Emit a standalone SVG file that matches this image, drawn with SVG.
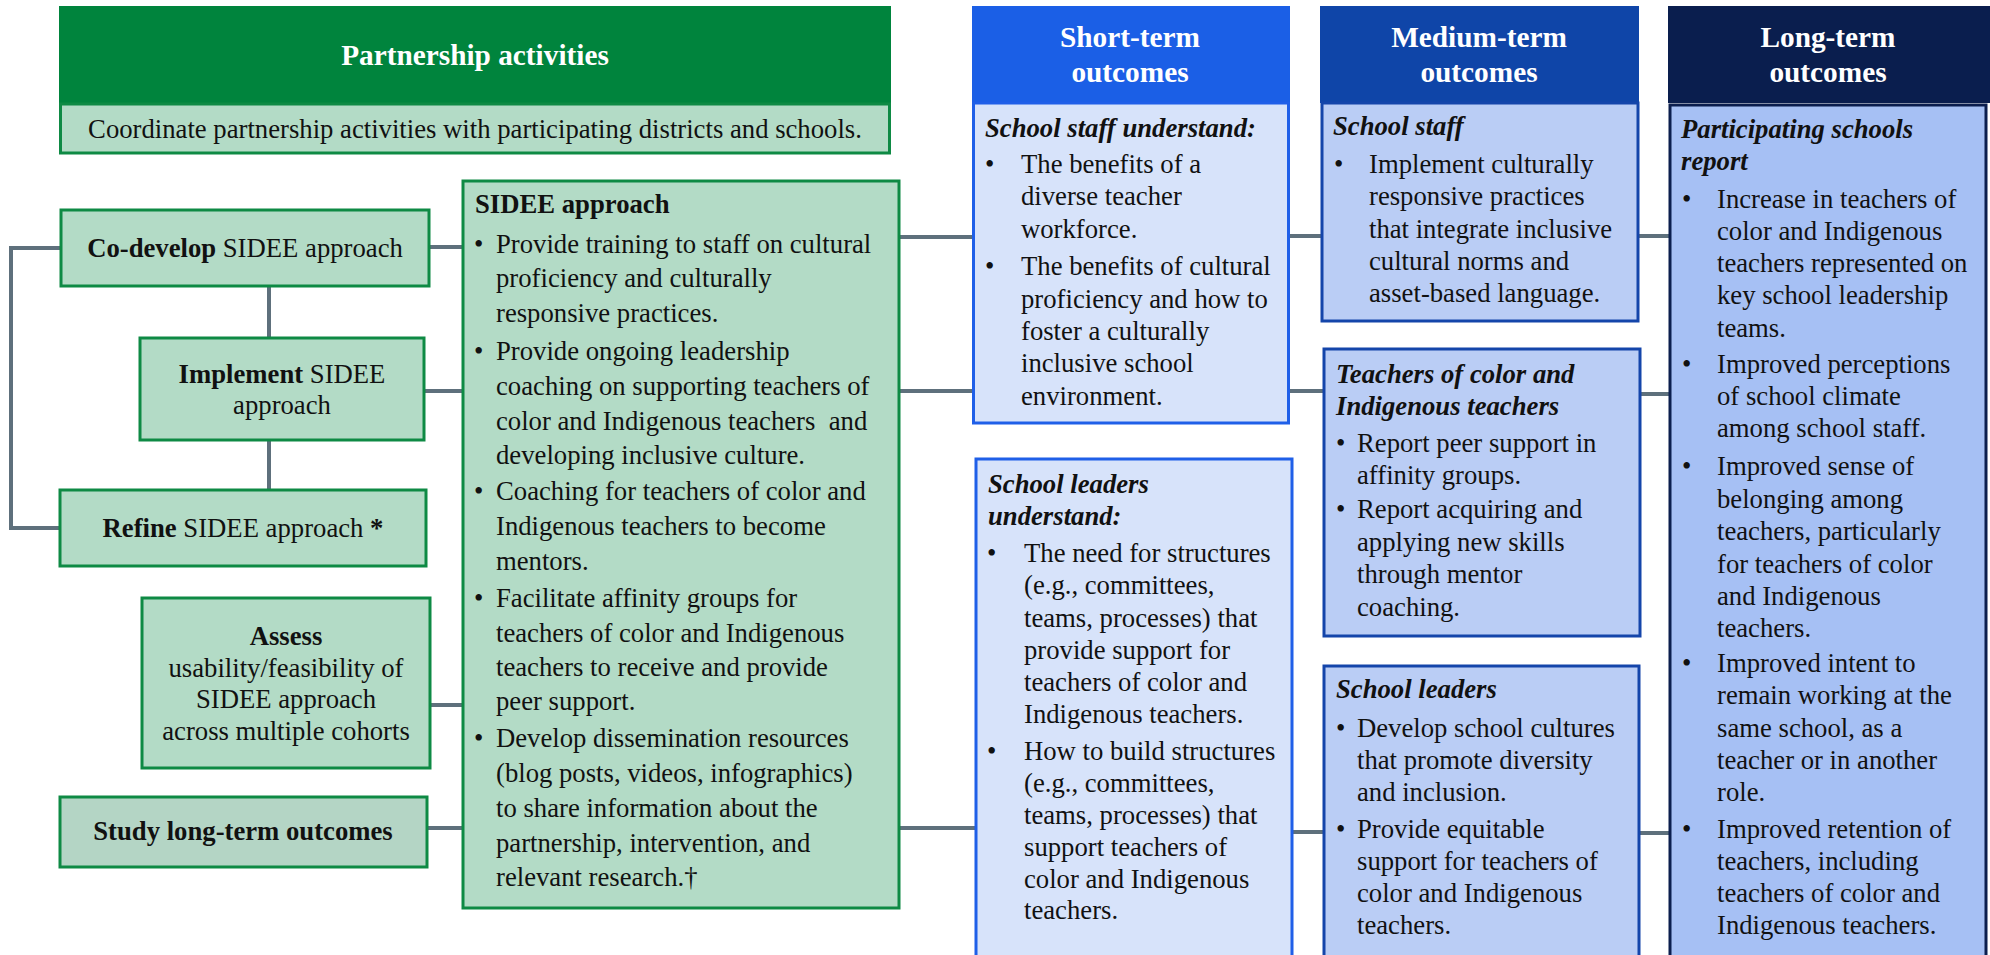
<svg xmlns="http://www.w3.org/2000/svg" width="1990" height="955" viewBox="0 0 1990 955">
<style>
text{font-family:"Liberation Serif","Times New Roman",serif;font-size:26.7px;fill:#111}
.hd{font-size:29.3px;font-weight:bold;fill:#fff;text-anchor:middle}
.b{font-weight:bold}
.bi{font-weight:bold;font-style:italic}
.c{text-anchor:middle}
.g{fill:#b3dbc6;stroke:#0e8a44;stroke-width:3}
.s{fill:#d7e3fa;stroke:#1f5fe8;stroke-width:3}
.m{fill:#bacdf5;stroke:#1445aa;stroke-width:3}
.l{fill:#a6c0f4;stroke:#0b1e4e;stroke-width:3}
.cn path{fill:none;stroke:#5e707c;stroke-width:4}
</style>
<rect width="1990" height="955" fill="#fff"/>
<g id="connectors" class="cn">
<path d="M60,248 H11 V528 H59"/>
<path d="M269,287 V337"/>
<path d="M269,441 V489"/>
<path d="M430,247 H462"/>
<path d="M425,391 H462"/>
<path d="M431,705 H462"/>
<path d="M428,828 H462"/>
<path d="M900,237 H972"/>
<path d="M900,391 H972"/>
<path d="M900,828 H976"/>
<path d="M1290,236 H1322"/>
<path d="M1290,391 H1323"/>
<path d="M1292,832 H1323"/>
<path d="M1638,236 H1669"/>
<path d="M1640,394 H1669"/>
<path d="M1638,833 H1669"/>
</g>
<g id="partnership">
<rect x="59" y="6" width="832" height="98" fill="#00843d"/>
<text class="hd" x="475" y="65">Partnership activities</text>
<rect class="g" x="60.5" y="104" width="829" height="49"/>
<text class="c" x="475" y="138">Coordinate partnership activities with participating districts and schools.</text>
</g>
<g id="codevelop">
<rect class="g" x="61" y="210" width="368" height="76"/>
<text class="c" x="245" y="257"><tspan class="b">Co-develop</tspan> SIDEE approach</text>
</g>
<g id="implement">
<rect class="g" x="140" y="338" width="284" height="102"/>
<text class="c" x="282" y="383"><tspan class="b">Implement</tspan> SIDEE</text>
<text class="c" x="282" y="414">approach</text>
</g>
<g id="refine">
<rect class="g" x="60" y="490" width="366" height="76"/>
<text class="c" x="243" y="537"><tspan class="b">Refine</tspan> SIDEE approach <tspan class="b">*</tspan></text>
</g>
<g id="assess">
<rect class="g" x="142" y="598" width="288" height="170"/>
<text class="c" x="286" y="645"><tspan class="b">Assess</tspan></text>
<text class="c" x="286" y="677">usability/feasibility of</text>
<text class="c" x="286" y="708">SIDEE approach</text>
<text class="c" x="286" y="740">across multiple cohorts</text>
</g>
<g id="study">
<rect x="60" y="797" width="367" height="70" fill="#b4d5c5" stroke="#0e8a44" stroke-width="3"/>
<text class="c b" x="243" y="840">Study long-term outcomes</text>
</g>
<g id="sidee">
<rect class="g" x="463" y="181" width="436" height="727"/>
<text class="b" x="475" y="213">SIDEE approach</text>
<text x="474" y="253">•</text>
<text x="496" y="253">Provide training to staff on cultural</text>
<text x="496" y="287">proficiency and culturally</text>
<text x="496" y="322">responsive practices.</text>
<text x="474" y="360">•</text>
<text x="496" y="360">Provide ongoing leadership</text>
<text x="496" y="395">coaching on supporting teachers of</text>
<text x="496" y="430" xml:space="preserve">color and Indigenous teachers  and</text>
<text x="496" y="464">developing inclusive culture.</text>
<text x="474" y="500">•</text>
<text x="496" y="500">Coaching for teachers of color and</text>
<text x="496" y="535">Indigenous teachers to become</text>
<text x="496" y="570">mentors.</text>
<text x="474" y="607">•</text>
<text x="496" y="607">Facilitate affinity groups for</text>
<text x="496" y="642">teachers of color and Indigenous</text>
<text x="496" y="676">teachers to receive and provide</text>
<text x="496" y="710">peer support.</text>
<text x="474" y="747">•</text>
<text x="496" y="747">Develop dissemination resources</text>
<text x="496" y="782">(blog posts, videos, infographics)</text>
<text x="496" y="817">to share information about the</text>
<text x="496" y="852">partnership, intervention, and</text>
<text x="496" y="886">relevant research.†</text>
</g>
<g id="short-header">
<rect x="972" y="6" width="318" height="97" fill="#1b5fe6"/>
<text class="hd" x="1130" y="47">Short-term</text>
<text class="hd" x="1130" y="82">outcomes</text>
</g>
<g id="short-staff">
<rect class="s" x="973.5" y="103" width="315" height="320"/>
<text class="bi" x="985" y="137">School staff understand:</text>
<text x="985" y="173">•</text>
<text x="1021" y="173">The benefits of a</text>
<text x="1021" y="205">diverse teacher</text>
<text x="1021" y="238">workforce.</text>
<text x="985" y="275">•</text>
<text x="1021" y="275">The benefits of cultural</text>
<text x="1021" y="308">proficiency and how to</text>
<text x="1021" y="340">foster a culturally</text>
<text x="1021" y="372">inclusive school</text>
<text x="1021" y="405">environment.</text>
</g>
<g id="short-leaders">
<rect class="s" x="976" y="459" width="316" height="510"/>
<text class="bi" x="988" y="493">School leaders</text>
<text class="bi" x="988" y="525">understand:</text>
<text x="987" y="562">•</text>
<text x="1024" y="562">The need for structures</text>
<text x="1024" y="594">(e.g., committees,</text>
<text x="1024" y="627">teams, processes) that</text>
<text x="1024" y="659">provide support for</text>
<text x="1024" y="691">teachers of color and</text>
<text x="1024" y="723">Indigenous teachers.</text>
<text x="987" y="760">•</text>
<text x="1024" y="760">How to build structures</text>
<text x="1024" y="792">(e.g., committees,</text>
<text x="1024" y="824">teams, processes) that</text>
<text x="1024" y="856">support teachers of</text>
<text x="1024" y="888">color and Indigenous</text>
<text x="1024" y="919">teachers.</text>
</g>
<g id="medium-header">
<rect x="1320" y="6" width="319" height="97" fill="#0f45a8"/>
<text class="hd" x="1479" y="47">Medium-term</text>
<text class="hd" x="1479" y="82">outcomes</text>
</g>
<g id="medium-staff">
<rect class="m" x="1322" y="103" width="316" height="218"/>
<text class="bi" x="1333" y="135">School staff</text>
<text x="1334" y="173">•</text>
<text x="1369" y="173">Implement culturally</text>
<text x="1369" y="205">responsive practices</text>
<text x="1369" y="238">that integrate inclusive</text>
<text x="1369" y="270">cultural norms and</text>
<text x="1369" y="302">asset-based language.</text>
</g>
<g id="medium-teachers">
<rect class="m" x="1324" y="349" width="316" height="287"/>
<text class="bi" x="1336" y="383">Teachers of color and</text>
<text class="bi" x="1336" y="415">Indigenous teachers</text>
<text x="1336" y="452">•</text>
<text x="1357" y="452">Report peer support in</text>
<text x="1357" y="484">affinity groups.</text>
<text x="1336" y="518">•</text>
<text x="1357" y="518">Report acquiring and</text>
<text x="1357" y="551">applying new skills</text>
<text x="1357" y="583">through mentor</text>
<text x="1357" y="616">coaching.</text>
</g>
<g id="medium-leaders">
<rect class="m" x="1324" y="666" width="315" height="300"/>
<text class="bi" x="1336" y="698">School leaders</text>
<text x="1336" y="737">•</text>
<text x="1357" y="737">Develop school cultures</text>
<text x="1357" y="769">that promote diversity</text>
<text x="1357" y="801">and inclusion.</text>
<text x="1336" y="838">•</text>
<text x="1357" y="838">Provide equitable</text>
<text x="1357" y="870">support for teachers of</text>
<text x="1357" y="902">color and Indigenous</text>
<text x="1357" y="934">teachers.</text>
</g>
<g id="long-header">
<rect x="1668" y="6" width="322" height="97" fill="#0a1e4e"/>
<text class="hd" x="1828" y="47">Long-term</text>
<text class="hd" x="1828" y="82">outcomes</text>
</g>
<g id="long-body">
<rect class="l" x="1670" y="105" width="316" height="870"/>
<text class="bi" x="1681" y="138">Participating schools</text>
<text class="bi" x="1681" y="170">report</text>
<text x="1682" y="208">•</text>
<text x="1717" y="208">Increase in teachers of</text>
<text x="1717" y="240">color and Indigenous</text>
<text x="1717" y="272">teachers represented on</text>
<text x="1717" y="304">key school leadership</text>
<text x="1717" y="337">teams.</text>
<text x="1682" y="373">•</text>
<text x="1717" y="373">Improved perceptions</text>
<text x="1717" y="405">of school climate</text>
<text x="1717" y="437">among school staff.</text>
<text x="1682" y="475">•</text>
<text x="1717" y="475">Improved sense of</text>
<text x="1717" y="508">belonging among</text>
<text x="1717" y="540">teachers, particularly</text>
<text x="1717" y="573">for teachers of color</text>
<text x="1717" y="605">and Indigenous</text>
<text x="1717" y="637">teachers.</text>
<text x="1682" y="672">•</text>
<text x="1717" y="672">Improved intent to</text>
<text x="1717" y="704">remain working at the</text>
<text x="1717" y="737">same school, as a</text>
<text x="1717" y="769">teacher or in another</text>
<text x="1717" y="801">role.</text>
<text x="1682" y="838">•</text>
<text x="1717" y="838">Improved retention of</text>
<text x="1717" y="870">teachers, including</text>
<text x="1717" y="902">teachers of color and</text>
<text x="1717" y="934">Indigenous teachers.</text>
</g>
</svg>
